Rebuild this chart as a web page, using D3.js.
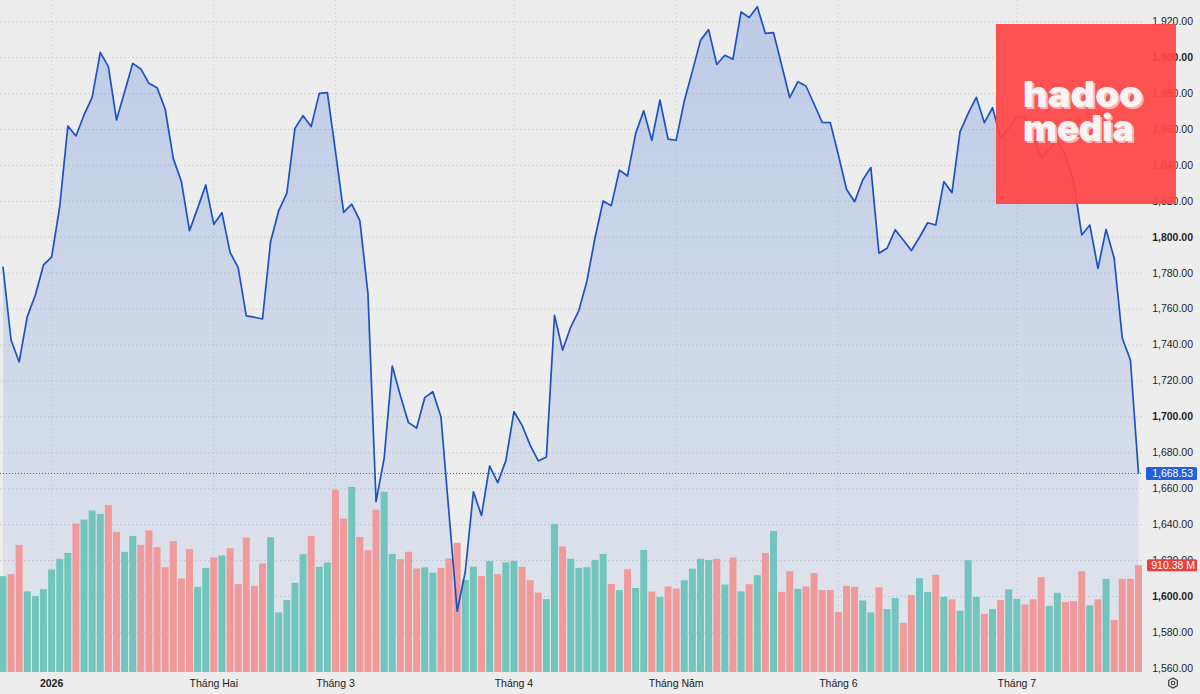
<!DOCTYPE html>
<html>
<head>
<meta charset="utf-8">
<script src="https://cdn.jsdelivr.net/npm/d3@7"></script>
<style>
  body { margin: 0; background: #ededed; }
  svg { display: block; font-family: "Liberation Sans", Arial, sans-serif; }
</style>
</head>
<body>
<div class="board"></div>
<script>
// closing prices, one per session (first 6 are late Dec 2025)
var closes = [
  1783.7, 1742.8, 1730.6, 1755.8, 1767.9, 1784.6, 1788.9, 1817.0, 1861.9, 1856.4,
  1868.1, 1877.9, 1902.9, 1895.0, 1865.3, 1881.0, 1896.8, 1893.7, 1885.7, 1883.3,
  1871.4, 1843.9, 1831.0, 1803.7, 1816.1, 1829.1, 1807.2, 1813.7, 1791.6, 1783.1,
  1756.2, 1755.5, 1754.5, 1797.6, 1814.8, 1824.5, 1860.6, 1867.7, 1861.6, 1880.1,
  1880.5, 1847.7, 1813.9, 1818.5, 1809.3, 1768.8, 1652.8, 1677.0, 1728.3, 1711.8,
  1696.8, 1693.8, 1710.7, 1714.0, 1700.1, 1646.0, 1591.8, 1613.8, 1658.3, 1645.1,
  1672.8, 1663.4, 1675.5, 1703.0, 1695.3, 1684.3, 1675.5, 1677.7, 1756.5, 1737.2,
  1750.0, 1759.2, 1775.7, 1799.9, 1820.2, 1817.6, 1837.4, 1834.1, 1857.7, 1870.4,
  1853.9, 1876.4, 1854.6, 1854.0, 1875.9, 1892.5, 1909.6, 1915.6, 1896.2, 1901.3,
  1899.1, 1925.5, 1922.3, 1928.3, 1913.5, 1913.9, 1895.9, 1877.7, 1886.6, 1884.2,
  1874.2, 1864.0, 1863.8, 1845.8, 1826.7, 1819.8, 1831.9, 1838.9, 1791.1, 1793.9,
  1804.1, 1798.5, 1792.6, 1800.0, 1808.1, 1806.8, 1831.0, 1824.8, 1858.8, 1869.0,
  1877.9, 1863.8, 1872.1, 1855.6, 1860.6, 1867.5, 1866.6, 1856.0, 1844.5, 1849.0,
  1854.2, 1845.0, 1831.0, 1801.3, 1806.8, 1782.7, 1804.4, 1788.3, 1743.8, 1731.7,
  1668.53
];

// volume in millions
var volumes = [
  817, 834, 1083, 687, 647, 706, 874, 964, 1015, 1265,
  1299, 1376, 1347, 1423, 1194, 1024, 1160, 1083, 1208, 1064,
  893, 1115, 797, 1049, 726, 887, 976, 993, 1055, 749,
  1146, 734, 925, 1149, 508, 613, 760, 1004, 1160, 896,
  933, 1554, 1308, 1577, 1151, 1038, 1384, 1536, 1006, 961,
  1025, 882, 892, 847, 887, 967, 1102, 785, 899, 817,
  947, 834, 934, 947, 896, 782, 678, 621, 1261, 1071,
  965, 887, 893, 956, 1006, 750, 698, 875, 716, 1041,
  685, 638, 730, 711, 782, 881, 965, 955, 965, 746,
  976, 687, 748, 825, 1015, 1202, 683, 859, 709, 729,
  845, 698, 698, 513, 734, 726, 610, 508, 721, 536,
  630, 419, 655, 800, 681, 828, 641, 619, 522, 953,
  641, 496, 536, 613, 704, 624, 576, 619, 808, 564,
  675, 596, 604, 859, 567, 619, 794, 442, 794, 794,
  910.38
];

var monthLabels = ['2026', 'Tháng Hai', 'Tháng 3', 'Tháng 4', 'Tháng Năm', 'Tháng 6', 'Tháng 7'];
var monthIndex = [6, 26, 41, 63, 83, 103, 125];
var priceTicks = [1560, 1580, 1600, 1620, 1640, 1660, 1680, 1700, 1720, 1740,
                  1760, 1780, 1800, 1820, 1840, 1860, 1880, 1900, 1920];

var width = 1200, height = 694;
var plotRight = 1142, plotBottom = 672;

var svg = d3.select('.board').append('svg')
            .attr('width', width)
            .attr('height', height);

svg.append('rect').attr('width', width).attr('height', height).attr('fill', '#ededed');

// scales
var x = d3.scaleBand()
          .domain(d3.range(closes.length))
          .range([-0.55, plotRight])
          .paddingInner(0.14);
var cx = function(i) { return x(i) + x.bandwidth() / 2; };

var y = d3.scaleLinear().domain([1560, 1920]).range([668.4, 21.7]);

var yVol = d3.scaleLinear()
             .domain([0, d3.max(volumes)])
             .range([plotBottom, plotBottom - 185]);

// gradient for area
var defs = svg.append('defs');
var grad = defs.append('linearGradient')
               .attr('id', 'areaGrad')
               .attr('gradientUnits', 'userSpaceOnUse')
               .attr('x1', 0).attr('y1', 0).attr('x2', 0).attr('y2', plotBottom);
grad.append('stop').attr('offset', '0%').attr('stop-color', '#4777d6').attr('stop-opacity', 0.29);
grad.append('stop').attr('offset', '100%').attr('stop-color', '#4777d6').attr('stop-opacity', 0.07);

// grid
svg.append('g').selectAll('line')
   .data(priceTicks)
   .enter()
   .append('line')
   .attr('x1', 0).attr('x2', plotRight)
   .attr('y1', function(d) { return y(d); })
   .attr('y2', function(d) { return y(d); })
   .attr('stroke', '#cbcbcb')
   .attr('stroke-dasharray', '1.5,2.5');

svg.append('g').selectAll('line')
   .data(monthIndex)
   .enter()
   .append('line')
   .attr('x1', function(d) { return cx(d); })
   .attr('x2', function(d) { return cx(d); })
   .attr('y1', 0).attr('y2', plotBottom)
   .attr('stroke', '#d3d3d3')
   .attr('stroke-dasharray', '1.5,2.5');

// area under the line
var area = d3.area()
             .x(function(d, i) { return cx(i); })
             .y0(plotBottom)
             .y1(function(d) { return y(d); });

svg.append('path')
   .datum(closes)
   .attr('d', area)
   .attr('fill', 'url(#areaGrad)');

// volume bars
svg.append('g').selectAll('rect')
   .data(volumes)
   .enter()
   .append('rect')
   .attr('x', function(d, i) { return x(i); })
   .attr('width', x.bandwidth())
   .attr('y', function(d) { return yVol(d); })
   .attr('height', function(d) { return plotBottom - yVol(d); })
   .attr('fill', function(d, i) {
     return (i === 0 || closes[i] >= closes[i - 1]) ? '#72c5bc' : '#f19a9b';
   });

// price line
var line = d3.line()
             .x(function(d, i) { return cx(i); })
             .y(function(d) { return y(d); });

svg.append('path')
   .datum(closes)
   .attr('d', line)
   .attr('fill', 'none')
   .attr('stroke', '#1d52c4')
   .attr('stroke-width', 1.7)
   .attr('stroke-linejoin', 'round');

// last price dotted line
var last = closes[closes.length - 1];
svg.append('line')
   .attr('x1', 0).attr('x2', plotRight)
   .attr('y1', y(last)).attr('y2', y(last))
   .attr('stroke', '#2a5fd6')
   .attr('stroke-width', 1)
   .attr('stroke-dasharray', '1,2');

// right axis labels
svg.append('g').selectAll('text')
   .data(priceTicks)
   .enter()
   .append('text')
   .attr('x', 1193)
   .attr('y', function(d) { return y(d); })
   .attr('dy', '0.32em')
   .attr('text-anchor', 'end')
   .attr('font-size', 10.5)
   .attr('font-weight', function(d) { return d % 100 === 0 ? 'bold' : 'normal'; })
   .attr('fill', '#1e1e1e')
   .text(function(d) { return d3.format(',.2f')(d); });

// last price tag
svg.append('rect')
   .attr('x', 1146).attr('y', y(last) - 6.5)
   .attr('width', 51).attr('height', 13)
   .attr('rx', 1.5)
   .attr('fill', '#2160d8');
svg.append('text')
   .attr('x', 1193).attr('y', y(last))
   .attr('dy', '0.34em')
   .attr('text-anchor', 'end')
   .attr('font-size', 10.5)
   .attr('fill', '#fff')
   .text(d3.format(',.2f')(last));

// last volume tag
var lastVol = volumes[volumes.length - 1];
svg.append('rect')
   .attr('x', 1147).attr('y', yVol(lastVol) - 6)
   .attr('width', 50).attr('height', 12)
   .attr('rx', 1.5)
   .attr('fill', '#e8403f');
svg.append('text')
   .attr('x', 1195).attr('y', yVol(lastVol))
   .attr('dy', '0.34em')
   .attr('text-anchor', 'end')
   .attr('font-size', 10.5)
   .attr('fill', '#fff')
   .text(d3.format('.2f')(lastVol) + ' M');

// month labels
svg.append('g').selectAll('text')
   .data(monthIndex)
   .enter()
   .append('text')
   .attr('x', function(d) { return cx(d); })
   .attr('y', 683)
   .attr('dy', '0.35em')
   .attr('text-anchor', 'middle')
   .attr('font-size', 10.5)
   .attr('font-weight', function(d, i) { return i === 0 ? 'bold' : 'normal'; })
   .attr('fill', '#222')
   .text(function(d, i) { return monthLabels[i]; });

// settings icon
var gear = svg.append('g').attr('transform', 'translate(1173,683)');
gear.append('path')
    .attr('d', d3.range(7).map(function(k) {
      var a = Math.PI / 3 * k + Math.PI / 6;
      return (k ? 'L' : 'M') + (5 * Math.cos(a)).toFixed(2) + ',' + (5 * Math.sin(a)).toFixed(2);
    }).join('') + 'Z')
    .attr('fill', 'none').attr('stroke', '#333').attr('stroke-width', 1.1);
gear.append('circle').attr('r', 1.8).attr('fill', 'none').attr('stroke', '#333').attr('stroke-width', 1.1);

// watermark logo
var logo = svg.append('g');
logo.append('rect')
    .attr('x', 996).attr('y', 24)
    .attr('width', 180).attr('height', 180)
    .attr('fill', '#ff4545')
    .attr('opacity', 0.93);
[['hadoo', 107, 120], ['media', 141, 111]].forEach(function(w) {
  logo.append('text')
      .attr('x', 1025).attr('y', w[1] + 2)
      .attr('font-family', 'Inter, Lato, sans-serif')
      .attr('font-weight', 900)
      .attr('font-size', 36)
      .attr('textLength', w[2])
      .attr('lengthAdjust', 'spacingAndGlyphs')
      .attr('fill', '#f6b2b4')
      .text(w[0]);
  logo.append('text')
      .attr('x', 1023).attr('y', w[1])
      .attr('font-family', 'Inter, Lato, sans-serif')
      .attr('font-weight', 900)
      .attr('font-size', 36)
      .attr('textLength', w[2])
      .attr('lengthAdjust', 'spacingAndGlyphs')
      .attr('fill', '#fdf3f3')
      .text(w[0]);
});
</script>
</body>
</html>
